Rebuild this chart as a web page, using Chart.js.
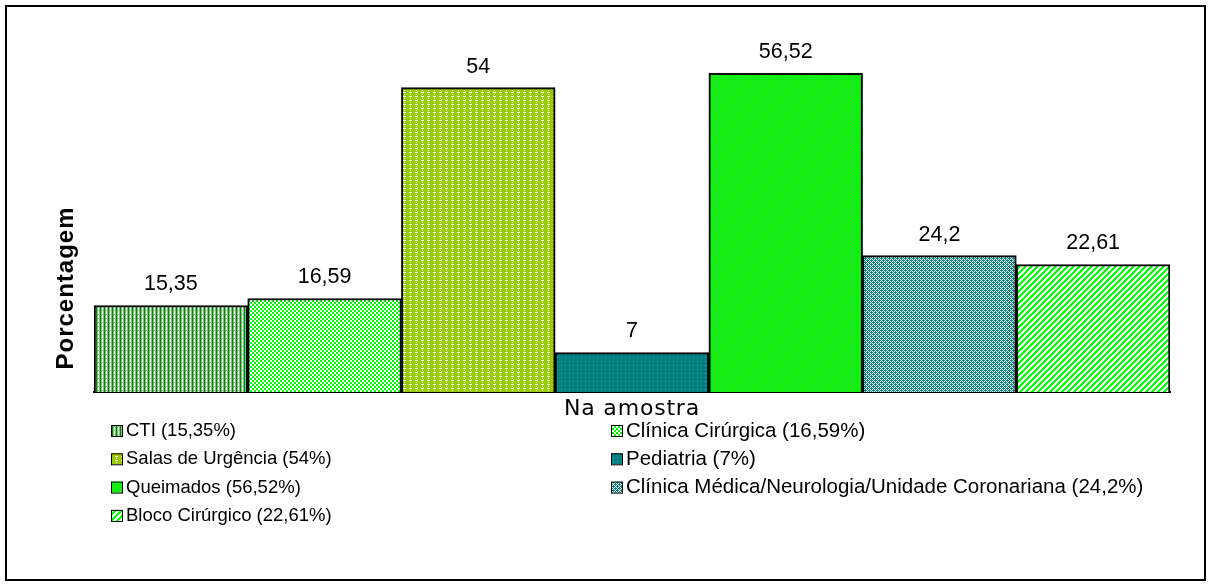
<!DOCTYPE html>
<html lang="pt">
<head>
  <meta charset="UTF-8" />
  <title>Porcentagem na amostra</title>
  <script src="https://cdn.jsdelivr.net/npm/chart.js@4.4.1"></script>
  <style>
    html, body { margin:0; padding:0; background:#fff; }
    #wrap { width:1211px; height:586px; position:relative; }
  </style>
</head>
<body>
<div id="wrap"><canvas id="myChart" width="1211" height="586"></canvas></div>

<script>
  // data
  var category = ['Na amostra'];
  var names  = ['CTI', 'Clínica Cirúrgica', 'Salas de Urgência', 'Pediatria',
                'Queimados', 'Clínica Médica/Neurologia/Unidade Coronariana', 'Bloco Cirúrgico'];
  var values = [15.35, 16.59, 54, 7, 56.52, 24.2, 22.61];
  var yMax = 66;

  function fmt(v){ return String(v).replace('.', ','); }

  // small pixel tiles that imitate the hatch fills
  function tile(w, h, fn){
    var c = document.createElement('canvas');
    c.width = w; c.height = h;
    var g = c.getContext('2d');
    for (var y = 0; y < h; y++) for (var x = 0; x < w; x++) {
      g.fillStyle = fn(x, y);
      g.fillRect(x, y, 1, 1);
    }
    return document.createElement('canvas').getContext('2d').createPattern(c, 'repeat');
  }

  var fills = [
    tile(4, 4, function(x, y){            // CTI
      if (x === 0) return '#008000';
      if (x === 2 && y !== 2) return '#ffffff';
      return '#80c080';
    }),
    tile(4, 4, function(x, y){            // Clinica Cirurgica
      var a = (x < 2) === (y < 2);
      if (x === 1 && y === 1) return '#00c000';
      return a ? '#00ff00' : '#ffffff';
    }),
    tile(6, 4, function(x, y){            // Salas de Urgencia
      if (y === 0 && x >= 1 && x <= 3) return '#ffffff';
      if (x === 2 && y === 2) return '#ffffff';
      return '#99cc00';
    }),
    tile(4, 4, function(x, y){            // Pediatria
      if (x === 1 && y === 1) return '#4da6a6';
      return '#008080';
    }),
    tile(3, 3, function(x, y){            // Queimados
      return ((x + y) % 3 === 0) ? '#33cc33' : '#00ff00';
    }),
    tile(4, 4, function(x, y){            // Clinica Medica
      if ((x + y) % 2 === 0) return '#008080';
      return (x === 1 && y === 2) || (x === 3 && y === 0) ? '#008080' : '#ffffff';
    }),
    tile(6, 6, function(x, y){            // Bloco Cirurgico
      return ((x + y) % 6) < 3 ? '#00ff00' : '#ffffff';
    })
  ];

  var datasets = [];
  for (var i = 0; i < names.length; i++) {
    datasets.push({
      label: names[i] + ' (' + fmt(values[i]) + '%)',
      data: [values[i]],
      backgroundColor: fills[i],
      borderColor: '#000',
      borderWidth: 2,
      categoryPercentage: 1,
      barPercentage: 1
    });
  }

  var extras = {
    id: 'extras',
    beforeDraw: function(c){
      var g = c.ctx;
      g.fillStyle = '#fff';
      g.fillRect(0, 0, c.width, c.height);
      g.letterSpacing = '0.8px';   // axis label is a touch wide in the original
    },
    beforeDatasetsDraw: function(c){
      c.ctx.letterSpacing = '0px';
    },
    afterDatasetsDraw: function(c){
      var g = c.ctx;
      g.save();
      g.font = '21.5px "Liberation Sans", Arial, sans-serif';
      g.fillStyle = '#000';
      g.textAlign = 'center';
      g.textBaseline = 'middle';
      c.data.datasets.forEach(function(ds, i){
        var bar = c.getDatasetMeta(i).data[0];
        g.fillText(fmt(ds.data[0]), bar.x, bar.y - 21);
      });
      g.restore();
    },
    afterDraw: function(c){
      var g = c.ctx;
      g.save();
      // frame
      g.strokeStyle = '#000';
      g.lineWidth = 2;
      g.strokeRect(6, 6, 1199, 574);
      // y title
      g.translate(66, 288);
      g.rotate(-Math.PI / 2);
      g.font = 'bold 24px "Liberation Sans", Arial, sans-serif';
      g.letterSpacing = '1px';
      g.textAlign = 'center';
      g.textBaseline = 'middle';
      g.fillStyle = '#000';
      g.fillText('Porcentagem', 0, 0);
      g.restore();

      // legend in two columns
      g.save();
      g.letterSpacing = '0px';
      g.textBaseline = 'middle';
      c.data.datasets.forEach(function(ds, i){
        var left = (i % 2 === 0);
        var x = left ? 111 : 611;
        var y = 431 + Math.floor(i / 2) * 28.3;
        g.fillStyle = ds.backgroundColor;
        g.fillRect(x, y - 6, 11, 11);
        g.strokeStyle = '#000';
        g.lineWidth = 1;
        g.strokeRect(x + 0.5, y - 5.5, 11, 11);
        g.fillStyle = '#000';
        g.font = (left ? '18.5px' : '20.5px') + ' "Liberation Sans", Arial, sans-serif';
        g.fillText(ds.label, x + 15, y);
      });
      g.restore();
    }
  };

  new Chart(document.getElementById('myChart'), {
    type: 'bar',
    data: { labels: category, datasets: datasets },
    options: {
      responsive: false,
      animation: false,
      layout: { padding: { left: 94, right: 41, top: 20, bottom: 164 } },
      plugins: { legend: { display: false }, tooltip: { enabled: false } },
      scales: {
        x: {
          grid: { display: false, drawTicks: false },
          border: { display: true, color: '#000', width: 2 },
          ticks: { color: '#000', padding: 4, font: { family: '"DejaVu Sans", Verdana, sans-serif', size: 22 } },
          afterFit: function(s){ s.height = 30; }
        },
        y: {
          display: false,
          min: 0,
          max: yMax
        }
      }
    },
    plugins: [extras]
  });
</script>
</body>
</html>
